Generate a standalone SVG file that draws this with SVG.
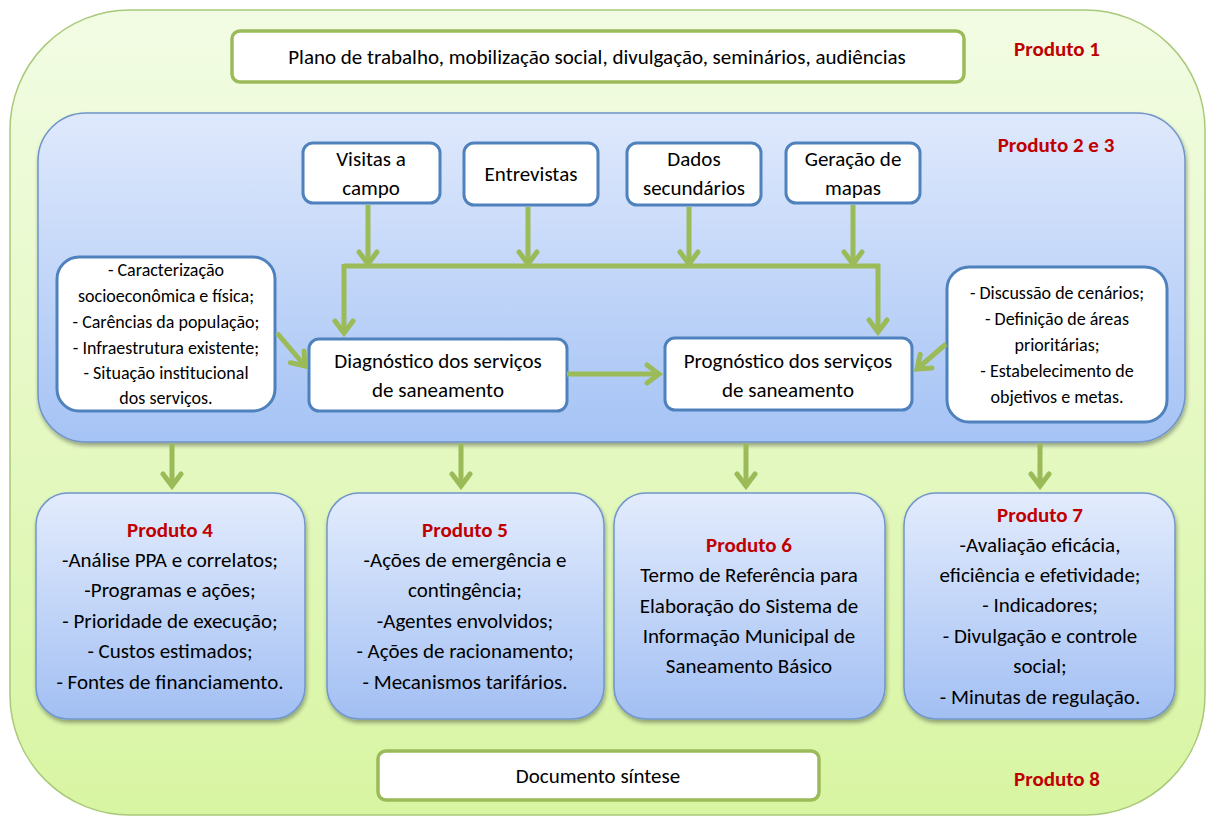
<svg xmlns="http://www.w3.org/2000/svg" width="1207" height="818" viewBox="0 0 1207 818">
<defs>
<linearGradient id="gOuter" x1="0" y1="0" x2="0" y2="1">
<stop offset="0" stop-color="#f2fce4"/>
<stop offset="1" stop-color="#d8f5a2"/>
</linearGradient>
<linearGradient id="gPanel" x1="0" y1="0" x2="0" y2="1">
<stop offset="0" stop-color="#dfe9fc"/>
<stop offset="1" stop-color="#a5c3f5"/>
</linearGradient>
<linearGradient id="gProd" x1="0" y1="0" x2="0" y2="1">
<stop offset="0" stop-color="#e3ecfd"/>
<stop offset="1" stop-color="#a2bff3"/>
</linearGradient>
<filter id="sh" x="-10%" y="-10%" width="125%" height="130%">
<feGaussianBlur in="SourceAlpha" stdDeviation="2"/>
<feOffset dx="1" dy="3" result="b"/>
<feComponentTransfer><feFuncA type="linear" slope="0.35"/></feComponentTransfer>
<feMerge><feMergeNode/><feMergeNode in="SourceGraphic"/></feMerge>
</filter>
<marker id="arr" markerUnits="userSpaceOnUse" viewBox="-16 -12 20 24" refX="0" refY="0" markerWidth="20" markerHeight="24" orient="auto">
<path d="M-12,-9 L0,0 L-12,9" fill="none" stroke="#9bbb59" stroke-width="5" stroke-linecap="round" stroke-linejoin="miter"/>
</marker>
<style>
text{font-family:"Carlito","Liberation Sans Narrow","Roboto Condensed","Open Sans",sans-serif;fill:#000;text-anchor:middle}
.t20{font-size:21px}
.t17{font-size:18px}
.red{fill:#c00000;font-weight:bold;font-size:21px}
.wg{fill:#fff;stroke:#9bbb59;stroke-width:3.5}
.wb{fill:#fff;stroke:#4f81bd;stroke-width:3}
.pb{fill:url(#gProd);stroke:#7096cc;stroke-width:1.5}
.con{fill:none;stroke:#9bbb59;stroke-width:5;marker-end:url(#arr)}
.conn{fill:none;stroke:#9bbb59;stroke-width:5}
</style>
</defs>

<g id="outer">
<rect x="10" y="10" width="1195" height="805" rx="120" ry="120" fill="url(#gOuter)" stroke="#a9c97a" stroke-width="1.5"/>
</g>

<g id="produto1">
<rect class="wg" x="232" y="31" width="732" height="51" rx="8"/>
<text class="t20" x="597" y="64">Plano de trabalho, mobilização social, divulgação, seminários, audiências</text>
<text class="red" x="1057" y="56">Produto 1</text>
</g>

<g id="panel">
<rect x="38" y="113" width="1147" height="329" rx="48" fill="url(#gPanel)" stroke="#6f94c8" stroke-width="1.5" filter="url(#sh)"/>
<text class="red" x="1056" y="152">Produto 2 e 3</text>
</g>

<g id="visitas">
<rect class="wb" x="303" y="143" width="137" height="60" rx="10"/>
<text class="t20" x="371" y="166">Visitas a</text>
<text class="t20" x="371" y="195">campo</text>
</g>
<g id="entrevistas">
<rect class="wb" x="464" y="143" width="134" height="62" rx="10"/>
<text class="t20" x="531" y="181">Entrevistas</text>
</g>
<g id="dados">
<rect class="wb" x="627" y="143" width="134" height="62" rx="10"/>
<text class="t20" x="694" y="166">Dados</text>
<text class="t20" x="694" y="195">secundários</text>
</g>
<g id="mapas">
<rect class="wb" x="786" y="143" width="134" height="60" rx="10"/>
<text class="t20" x="853" y="166">Geração de</text>
<text class="t20" x="853" y="195">mapas</text>
</g>

<g id="caracterizacao">
<rect class="wb" x="57" y="257" width="218" height="154" rx="22"/>
<text class="t17" x="166" y="276">- Caracterização</text>
<text class="t17" x="166" y="302">socioeconômica e física;</text>
<text class="t17" x="166" y="328">- Carências da população;</text>
<text class="t17" x="166" y="354">- Infraestrutura existente;</text>
<text class="t17" x="166" y="379">- Situação institucional</text>
<text class="t17" x="166" y="404">dos serviços.</text>
</g>

<g id="diagnostico">
<rect class="wb" x="309" y="339" width="258" height="72" rx="10"/>
<text class="t20" x="438" y="368">Diagnóstico dos serviços</text>
<text class="t20" x="438" y="397">de saneamento</text>
</g>

<g id="prognostico">
<rect class="wb" x="665" y="338" width="247" height="72" rx="10"/>
<text class="t20" x="788" y="368">Prognóstico dos serviços</text>
<text class="t20" x="788" y="397">de saneamento</text>
</g>

<g id="cenarios">
<rect class="wb" x="947" y="267" width="220" height="155" rx="22"/>
<text class="t17" x="1057" y="299">- Discussão de cenários;</text>
<text class="t17" x="1057" y="325">- Definição de áreas</text>
<text class="t17" x="1057" y="351">prioritárias;</text>
<text class="t17" x="1057" y="377">- Estabelecimento de</text>
<text class="t17" x="1057" y="403">objetivos e metas.</text>
</g>

<g id="produto4">
<rect class="pb" x="36" y="493" width="269" height="226" rx="32" filter="url(#sh)"/>
<text class="red" x="170" y="537">Produto 4</text>
<text class="t20" x="170" y="567">-Análise PPA e correlatos;</text>
<text class="t20" x="170" y="597">-Programas e ações;</text>
<text class="t20" x="170" y="628">- Prioridade de execução;</text>
<text class="t20" x="170" y="658">- Custos estimados;</text>
<text class="t20" x="170" y="689">- Fontes de financiamento.</text>
</g>

<g id="produto5">
<rect class="pb" x="327" y="493" width="277" height="226" rx="32" filter="url(#sh)"/>
<text class="red" x="465" y="537">Produto 5</text>
<text class="t20" x="465" y="567">-Ações de emergência e</text>
<text class="t20" x="465" y="597">contingência;</text>
<text class="t20" x="465" y="628">-Agentes envolvidos;</text>
<text class="t20" x="465" y="658">- Ações de racionamento;</text>
<text class="t20" x="465" y="689">- Mecanismos tarifários.</text>
</g>

<g id="produto6">
<rect class="pb" x="614" y="493" width="271" height="226" rx="32" filter="url(#sh)"/>
<text class="red" x="749" y="552">Produto 6</text>
<text class="t20" x="749" y="582">Termo de Referência para</text>
<text class="t20" x="749" y="613">Elaboração do Sistema de</text>
<text class="t20" x="749" y="643">Informação Municipal de</text>
<text class="t20" x="749" y="673">Saneamento Básico</text>
</g>

<g id="produto7">
<rect class="pb" x="904" y="493" width="271" height="226" rx="32" filter="url(#sh)"/>
<text class="red" x="1040" y="522">Produto 7</text>
<text class="t20" x="1040" y="552">-Avaliação eficácia,</text>
<text class="t20" x="1040" y="582">eficiência e efetividade;</text>
<text class="t20" x="1040" y="612">- Indicadores;</text>
<text class="t20" x="1040" y="643">- Divulgação e controle</text>
<text class="t20" x="1040" y="673">social;</text>
<text class="t20" x="1040" y="704">- Minutas de regulação.</text>
</g>

<g id="produto8">
<rect class="wg" x="378" y="751" width="441" height="49" rx="8"/>
<text class="t20" x="598" y="783">Documento síntese</text>
<text class="red" x="1057" y="786">Produto 8</text>
</g>

<g id="connectors">
<line class="conn" x1="344" y1="266" x2="880" y2="266"/>
<path class="con" d="M368,205 L368,264"/>
<path class="con" d="M528,207 L528,264"/>
<path class="con" d="M689,207 L689,264"/>
<path class="con" d="M853,205 L853,264"/>
<path class="con" d="M344,264 L344,333"/>
<path class="con" d="M878,264 L878,332"/>
<path class="con" d="M277,333 L305,366"/>
<path class="con" d="M567,374 L659,374"/>
<path class="con" d="M946,344 L917,369"/>
<path class="con" d="M172,444 L172,486"/>
<path class="con" d="M461,444 L461,486"/>
<path class="con" d="M746,444 L746,486"/>
<path class="con" d="M1040,444 L1040,486"/>
</g>
</svg>
